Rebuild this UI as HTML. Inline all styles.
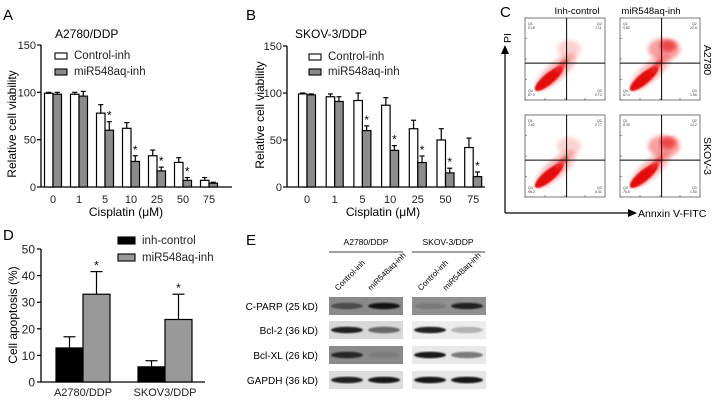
<!DOCTYPE html>
<html><head><meta charset="utf-8"><style>
html,body{margin:0;padding:0;background:#fff;}
svg{display:block;font-family:"Liberation Sans",Arial,sans-serif;}
</style></head><body>
<svg id="fig" width="720" height="400" viewBox="0 0 720 400">
<defs>
<filter id="blur1"><feGaussianBlur stdDeviation="2"/></filter>
<filter id="blur2"><feGaussianBlur stdDeviation="0.8"/></filter>
<filter id="blur3"><feGaussianBlur stdDeviation="1.5"/></filter>
</defs>
<g id="panelA"></g>
<g id="panelB"></g>
<g id="panelC"></g>
<g id="panelD"></g>
<g id="panelE"></g>
</svg>
<script>
const NS="http://www.w3.org/2000/svg";
// Panel A data
const doseLabels=["0","1","5","10","25","50","75"];
const aControl=[99,98,78,62,33,26,7];
const aControlErr=[1,2,9,6,6,5,3];
const aInh=[98,96,60,27,17,7,4];
const aInhErr=[2,5,9,6,4,3,1];
const aStars=[false,false,true,true,true,true,false];
// Panel B data
const bControl=[99,96,92,87,62,50,42];
const bControlErr=[1,3,8,8,9,12,10];
const bInh=[98,91,60,39,26,15,11];
const bInhErr=[1,5,5,5,7,5,5];
const bStars=[false,false,true,true,true,true,true];
const viabilityTicks=[0,50,100,150];
// Panel D data
const dCategories=["A2780/DDP","SKOV3/DDP"];
const dControl=[12.8,5.7];
const dControlErr=[4.2,2.3];
const dInh=[33,23.5];
const dInhErr=[8.5,9.5];
const apoptosisTicks=[0,10,20,30,40,50];

function el(tag,attrs,parent,text){const e=document.createElementNS(NS,tag);for(const k in attrs)e.setAttribute(k,attrs[k]);if(text!==undefined)e.textContent=text;parent.appendChild(e);return e;}

function barChart(g,o){
  const y=v=>o.y0-(v-0)*(o.y0-o.yTop)/o.yMax;
  el('line',{x1:o.ax,y1:o.yTop,x2:o.ax,y2:o.y0,stroke:'#000','stroke-width':1.3},g);
  el('line',{x1:o.ax,y1:o.y0,x2:o.axEnd,y2:o.y0,stroke:'#000','stroke-width':1.3},g);
  o.ticks.forEach(t=>{
    el('line',{x1:o.ax-4,y1:y(t),x2:o.ax,y2:y(t),stroke:'#000','stroke-width':1.2},g);
    const tl=el('text',{x:o.ax-5,y:y(t)+4,'font-size':o.fs,'text-anchor':'end',fill:'#222'},g,String(t));
    
    
  });
  o.cats.forEach((c,i)=>{
    const cx=o.c0+i*o.step;
    const series=[[o.s1,o.e1,o.f1,cx-o.bw],[o.s2,o.e2,o.f2,cx]];
    series.forEach((s,j)=>{
      const v=s[0][i],e=s[1][i];
      const ex=s[3]+o.bw/2;
      el('line',{x1:ex,y1:y(v),x2:ex,y2:y(v+e),stroke:'#000','stroke-width':1.2},g);
      el('line',{x1:ex-o.bw*0.3,y1:y(v+e),x2:ex+o.bw*0.3,y2:y(v+e),stroke:'#000','stroke-width':1.2},g);
      const r=el('rect',{x:s[3],y:y(v),width:o.bw,height:o.y0-y(v),fill:s[2],stroke:'#000','stroke-width':1.2},g);
      
      
      if(j===1&&o.stars&&o.stars[i]){
        const st=el('text',{x:ex,y:y(v+e)-2,'font-size':12,'text-anchor':'middle'},g,'*');
        
        
      }
    });
    const xl=el('text',{x:cx,y:o.y0+o.xlOff,'font-size':o.fs,'text-anchor':'middle',fill:'#222'},g,c);
    
    
  });
}
function legendEntry(g,x,yy,w,h,fill,label,fs){
  const r=el('rect',{x:x,y:yy,width:w,height:h,fill:fill,stroke:'#000','stroke-width':1.1},g);
  
  
  const t=el('text',{x:x+w+7,y:yy+h,'font-size':fs,fill:'#222'},g,label);
  
  
}
function txt(g,attrs,s,name){const t=el('text',attrs,g,s);return t;}

// Panel A
const A=document.getElementById('panelA');
txt(A,{x:3,y:20,'font-size':15},'A','panel-label-a');
txt(A,{x:55,y:38,'font-size':12},'A2780/DDP','chart-title-a');
barChart(A,{ax:41,axEnd:232,y0:187,yTop:45,yMax:150,ticks:viabilityTicks,cats:doseLabels,c0:53,step:26,bw:8.5,
  s1:aControl,e1:aControlErr,f1:'#fff',s2:aInh,e2:aInhErr,f2:'#8c8c8c',stars:aStars,fs:11,xlOff:16,xTicks:false});
legendEntry(A,55,53,12,6,'#fff','Control-inh',11.5);
legendEntry(A,55,69,12,6,'#8c8c8c','miR548aq-inh',11.5);
txt(A,{x:126,y:216,'font-size':12,'text-anchor':'middle'},'Cisplatin (\u03BCM)','x-axis-title-a');
txt(A,{x:0,y:0,'font-size':12,'text-anchor':'middle',transform:'translate(16,124) rotate(-90)'},'Relative cell viability','y-axis-title-a');

// Panel B
const B=document.getElementById('panelB');
txt(B,{x:246,y:20,'font-size':15},'B','panel-label-b');
txt(B,{x:295,y:38,'font-size':12},'SKOV-3/DDP','chart-title-b');
barChart(B,{ax:287,axEnd:485,y0:187,yTop:46,yMax:150,ticks:viabilityTicks,cats:doseLabels,c0:307,step:27.7,bw:8.5,
  s1:bControl,e1:bControlErr,f1:'#fff',s2:bInh,e2:bInhErr,f2:'#8c8c8c',stars:bStars,fs:11,xlOff:16,xTicks:false});
legendEntry(B,309,54,12,6,'#fff','Control-inh',11.5);
legendEntry(B,309,69,12,6,'#8c8c8c','miR548aq-inh',11.5);
txt(B,{x:383,y:216,'font-size':12,'text-anchor':'middle'},'Cisplatin (\u03BCM)','x-axis-title-b');
txt(B,{x:0,y:0,'font-size':12,'text-anchor':'middle',transform:'translate(264,115) rotate(-90)'},'Relative cell viability','y-axis-title-b');

// Panel C
const C=document.getElementById('panelC');
txt(C,{x:500,y:17,'font-size':15},'C','panel-label-c');
txt(C,{x:577,y:14,'font-size':9.5,'text-anchor':'middle'},'Inh-control','column-header-inh-control');
txt(C,{x:651,y:14,'font-size':9.5,'text-anchor':'middle'},'miR548aq-inh','column-header-mir548aq-inh');
const boxes=[[525,18,'A','q'],[620,18,'A','t'],[525,115,'S','q'],[620,115,'S','t']];
const qvals=[["5.18","7.11","87.0","0.73"],["9.82","21.9","67.0","1.56"],["2.82","2.77","96.2","0.41"],["8.30","14.2","75.6","1.00"]];
boxes.forEach((b,i)=>{
  const [x,y]=b;const w=80,h=82;
  const g=el('g',{},C);
  
  
  el('rect',{x:x,y:y,width:w,height:h,fill:'#fff',stroke:'#555','stroke-width':0.8},g);
  const strong=b[3]==='t';
  // diffuse halo along diagonal
  el('ellipse',{cx:x+w*0.38,cy:y+h*0.66,rx:26,ry:9,fill:'#f26060',opacity:0.45,transform:`rotate(-42 ${x+w*0.38} ${y+h*0.66})`,filter:'url(#blur1)'},g);
  el('ellipse',{cx:x+w*0.3,cy:y+h*0.74,rx:18,ry:5.5,fill:'#e41010',transform:`rotate(-40 ${x+w*0.3} ${y+h*0.74})`,filter:'url(#blur2)'},g);
  el('ellipse',{cx:x+w*0.46,cy:y+h*0.58,rx:9,ry:3,fill:'#ee3030',opacity:0.8,transform:`rotate(-45 ${x+w*0.46} ${y+h*0.58})`,filter:'url(#blur3)'},g);
  el('ellipse',{cx:x+w*0.55,cy:y+h*0.38,rx:strong?16:12,ry:strong?11:9,fill:'#f25050',opacity:strong?0.55:0.25,filter:'url(#blur1)'},g);
  if(strong)el('ellipse',{cx:x+w*0.6,cy:y+h*0.34,rx:8,ry:6,fill:'#e82020',opacity:0.7,filter:'url(#blur1)'},g);
  el('line',{x1:x+w*0.52,y1:y,x2:x+w*0.52,y2:y+h,stroke:'#000','stroke-width':1},g);
  el('line',{x1:x,y1:y+h*0.55,x2:x+w,y2:y+h*0.55,stroke:'#000','stroke-width':1},g);
  const q=qvals[i];
  el('text',{x:x+3,y:y+7,'font-size':3.5,fill:'#333'},g,'Q1');el('text',{x:x+3,y:y+11,'font-size':3.5,fill:'#333'},g,q[0]);
  el('text',{x:x+w-8,y:y+7,'font-size':3.5,fill:'#333'},g,'Q2');el('text',{x:x+w-10,y:y+11,'font-size':3.5,fill:'#333'},g,q[1]);
  el('text',{x:x+3,y:y+h-8,'font-size':3.5,fill:'#333'},g,'Q4');el('text',{x:x+3,y:y+h-4,'font-size':3.5,fill:'#333'},g,q[2]);
  el('text',{x:x+w-8,y:y+h-8,'font-size':3.5,fill:'#333'},g,'Q3');el('text',{x:x+w-10,y:y+h-4,'font-size':3.5,fill:'#333'},g,q[3]);
  for(let k=0;k<5;k++){el('line',{x1:x+k*w/4,y1:y+h,x2:x+k*w/4,y2:y+h-2,stroke:'#555','stroke-width':0.6},g);el('line',{x1:x,y1:y+k*h/4,x2:x+2,y2:y+k*h/4,stroke:'#555','stroke-width':0.6},g);}
});
el('line',{x1:505,y1:213,x2:505,y2:52,stroke:'#000','stroke-width':1.2},C);
el('polygon',{points:'501,54 509,54 505,45',fill:'#000'},C);
el('line',{x1:505,y1:213,x2:630,y2:213,stroke:'#000','stroke-width':1.2},C);
el('polygon',{points:'628,209 628,217 637,213',fill:'#000'},C);
txt(C,{x:0,y:0,'font-size':10.5,'text-anchor':'middle',transform:'translate(511,38) rotate(-90)'},'PI','y-axis-title-pi');
txt(C,{x:638,y:217,'font-size':10.5},'Annxin V-FITC','x-axis-title-annexin');
txt(C,{x:0,y:0,'font-size':10.5,'text-anchor':'middle',transform:'translate(704,60) rotate(90)'},'A2780','row-label-a2780');
txt(C,{x:0,y:0,'font-size':10.5,'text-anchor':'middle',transform:'translate(704,156) rotate(90)'},'SKOV-3','row-label-skov3');

// Panel D
const D=document.getElementById('panelD');
txt(D,{x:3,y:240,'font-size':15},'D','panel-label-d');
(function(){
  const ax=41,y0=382,yTop=249,yMax=50;
  const y=v=>y0-v*(y0-yTop)/yMax;
  el('line',{x1:ax,y1:yTop,x2:ax,y2:y0,stroke:'#000','stroke-width':1.3},D);
  el('line',{x1:ax,y1:y0,x2:205,y2:y0,stroke:'#000','stroke-width':1.3},D);
  apoptosisTicks.forEach(t=>{
    el('line',{x1:ax-4,y1:y(t),x2:ax,y2:y(t),stroke:'#000','stroke-width':1.2},D);
    const tl=el('text',{x:ax-6,y:y(t)+4.5,'font-size':12,'text-anchor':'end',fill:'#222'},D,String(t));
    
    
  });
  const centers=[83,165],bw=27;
  dCategories.forEach((c,i)=>{
    [[dControl,dControlErr,'#000',centers[i]-bw],[dInh,dInhErr,'#999',centers[i]]].forEach((s,j)=>{
      const v=s[0][i],e=s[1][i],ex=s[3]+bw/2;
      el('line',{x1:ex,y1:y(v),x2:ex,y2:y(v+e),stroke:'#000','stroke-width':1.2},D);
      el('line',{x1:ex-6,y1:y(v+e),x2:ex+6,y2:y(v+e),stroke:'#000','stroke-width':1.2},D);
      const r=el('rect',{x:s[3],y:y(v),width:bw,height:y0-y(v),fill:s[2],stroke:'#000','stroke-width':1.2},D);
      
      
      if(j===1){const st=el('text',{x:ex,y:y(v+e)-2,'font-size':12,'text-anchor':'middle'},D,'*');
        
        }
    });
    const xl=el('text',{x:centers[i],y:396,'font-size':11,'text-anchor':'middle',fill:'#222'},D,c);
    
    
  });
})();
legendEntry(D,118,237,17,7,'#000','inh-control',11.5);
legendEntry(D,118,254,17,7,'#999','miR548aq-inh',11.5);
txt(D,{x:0,y:0,'font-size':12,'text-anchor':'middle',transform:'translate(17,315) rotate(-90)'},'Cell apoptosis (%)','y-axis-title-d');

// Panel E
const E=document.getElementById('panelE');
txt(E,{x:246,y:245,'font-size':15},'E','panel-label-e');
txt(E,{x:366,y:245,'font-size':8.5,'text-anchor':'middle'},'A2780/DDP','group-header-a2780');
txt(E,{x:448,y:245,'font-size':8.5,'text-anchor':'middle'},'SKOV-3/DDP','group-header-skov3');
el('line',{x1:329,y1:252,x2:403,y2:252,stroke:'#000','stroke-width':0.8},E);
el('line',{x1:412,y1:252,x2:485,y2:252,stroke:'#000','stroke-width':0.8},E);
const lanes=[[338,'Control-inh'],[371,'miR548aq-inh'],[421,'Control-inh'],[446,'miR548aq-inh']];
lanes.forEach(l=>txt(E,{x:0,y:0,'font-size':8,transform:`translate(${l[0]},291) rotate(-45)`},l[1],'lane-label'));
const rows=[['C-PARP (25 kD)',297,'#8a8a8a','#8f8f8f',[0.5,0.95],[0.15,0.85]],
            ['Bcl-2 (36 kD)',321,'#d8d8d8','#ececec',[0.9,0.55],[0.9,0.25]],
            ['Bcl-XL (26 kD)',346,'#8a8a8a','#e8e8e8',[0.8,0.1],[0.95,0.5]],
            ['GAPDH (36 kD)',371,'#dcdcdc','#e6e6e6',[0.9,0.95],[0.95,0.95]]];
rows.forEach(r=>{
  txt(E,{x:318,y:r[1]+13,'font-size':10,'text-anchor':'end'},r[0],'blot-row-label');
  [[329,r[2],r[4]],[412,r[3],r[5]]].forEach(bl=>{
    const g=el('g',{},E);
    
    
    el('rect',{x:bl[0],y:r[1],width:74,height:18,fill:bl[1]},g);
    bl[2].forEach((s,k)=>{
      el('ellipse',{cx:bl[0]+18+k*37,cy:r[1]+9,rx:16,ry:3.2,fill:'#111',opacity:s,filter:'url(#blur2)'},g);
    });
  });
});
</script>
</body></html>
